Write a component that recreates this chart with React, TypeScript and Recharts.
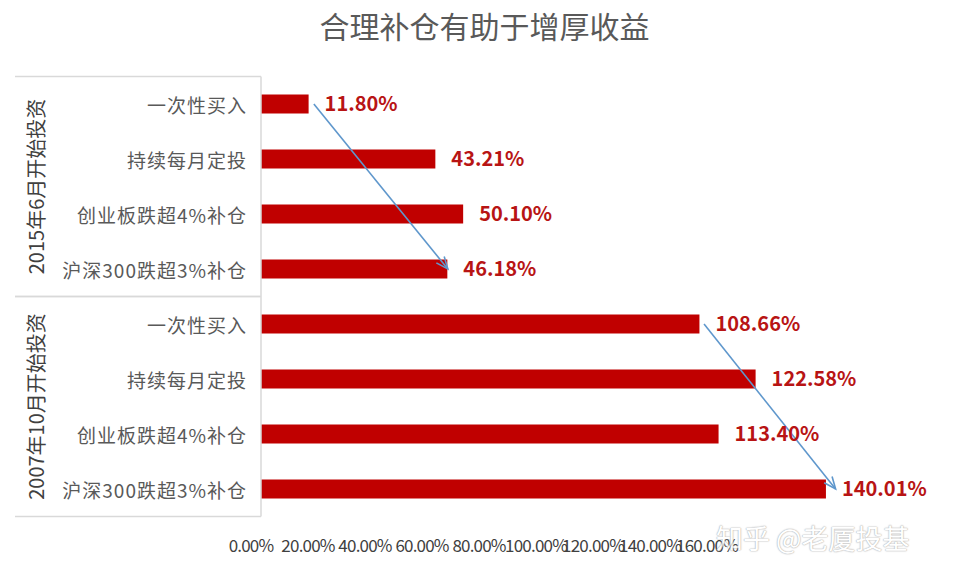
import React from 'react';
import { BarChart, Bar, XAxis, YAxis, LabelList, ReferenceLine } from 'recharts';

const ids = ['a1', 'a2', 'a3', 'a4', 'b1', 'b2', 'b3', 'b4'];
const categories = [
  '一次性买入', '持续每月定投', '创业板跌超4%补仓', '沪深300跌超3%补仓',
  '一次性买入', '持续每月定投', '创业板跌超4%补仓', '沪深300跌超3%补仓',
];
const groups = [
  '2015年6月开始投资', '2015年6月开始投资', '2015年6月开始投资', '2015年6月开始投资',
  '2007年10月开始投资', '2007年10月开始投资', '2007年10月开始投资', '2007年10月开始投资',
];
const values = [11.80, 43.21, 50.10, 46.18, 108.66, 122.58, 113.40, 140.01];
const xTicks = [0, 20, 40, 60, 80, 100, 120, 140, 160];
const arrow1 = [{ x: 13.1, y: 'a1' }, { x: 46.3, y: 'a4' }];
const arrow2 = [{ x: 109.8, y: 'b1' }, { x: 142.4, y: 'b4' }];

const data = ids.map((id, i) => ({ id, name: categories[i], group: groups[i], value: values[i] }));

const FONT = '"Noto Sans CJK SC", "Noto Sans", sans-serif';
const W = 969;
const H = 575;
const M = { top: 76.5, right: 62.4, bottom: 28.5, left: 15 };
const GROUP_W = 40;
const CAT_W = 206;
const X_AXIS_H = 30;
const PLOT_LEFT = M.left + GROUP_W + CAT_W;
const PLOT_BOTTOM = H - M.bottom - X_AXIS_H;
const PLOT_H = PLOT_BOTTOM - M.top;
const GROUP_HALF = PLOT_H / 4;
const LINE_COLOR = '#d9d9d9';

const CatTick = (props: any) => {
  const { x, y, payload } = props;
  const idx = ids.indexOf(payload.value);
  return (
    <text x={x} y={y} textAnchor="end" dominantBaseline="central" fill="#595959"
      fontSize={19} letterSpacing={1} fontFamily={FONT}>
      {categories[idx]}
    </text>
  );
};

const XTick = (props: any) => {
  const { x, payload } = props;
  return (
    <text x={x} y={PLOT_BOTTOM + 35} textAnchor="middle" fill="#404040" fontSize={17}
      letterSpacing={-0.8} fontFamily={FONT}>
      {Number(payload.value).toFixed(2) + '%'}
    </text>
  );
};

const GroupTick = (props: any) => {
  const { x, y, payload } = props;
  const cx = x - 12;
  return (
    <g>
      <line x1={M.left} x2={PLOT_LEFT} y1={y - GROUP_HALF} y2={y - GROUP_HALF} stroke={LINE_COLOR} strokeWidth={1.5} />
      <line x1={M.left} x2={PLOT_LEFT} y1={y + GROUP_HALF} y2={y + GROUP_HALF} stroke={LINE_COLOR} strokeWidth={1.5} />
      <text transform={`translate(${cx},${y}) rotate(-90)`} textAnchor="middle" dominantBaseline="central"
        fill="#404040" fontSize={20} fontFamily={FONT}>
        {payload.value}
      </text>
    </g>
  );
};

const ArrowShape = (props: any) => {
  const { x1, y1, x2, y2 } = props;
  if ([x1, y1, x2, y2].some((v) => typeof v !== 'number' || isNaN(v))) return <g />;
  const ang = Math.atan2(y2 - y1, x2 - x1);
  const len = 13;
  const spread = 0.4;
  const ax = x2 - len * Math.cos(ang - spread);
  const ay = y2 - len * Math.sin(ang - spread);
  const bx = x2 - len * Math.cos(ang + spread);
  const by = y2 - len * Math.sin(ang + spread);
  const c = '#5f97cc';
  return (
    <g>
      <line x1={x1} y1={y1} x2={x2} y2={y2} stroke={c} strokeWidth={1.6} />
      <polyline points={`${ax},${ay} ${x2},${y2} ${bx},${by}`} fill="none" stroke={c} strokeWidth={1.6} />
    </g>
  );
};

export default function App() {
  return (
    <div style={{ position: 'absolute', left: 0, top: 0, width: W, height: H, background: '#fff', fontFamily: FONT }}>
      <div style={{ position: 'absolute', left: 0, top: 6, width: W, textAlign: 'center', fontSize: 30, color: '#595959', lineHeight: '38px' }}>
        合理补仓有助于增厚收益
      </div>
      <BarChart width={W} height={H} data={data} layout="vertical" margin={M}>
        <XAxis xAxisId="tick" type="number" domain={[3.5, 230]} ticks={xTicks} allowDataOverflow
          axisLine={false} tickLine={false} height={X_AXIS_H} tickMargin={0} interval={0} tick={<XTick />} />
        <XAxis xAxisId="bar" type="number" domain={[0, 160]} hide />
        <YAxis yAxisId="cat" type="category" dataKey="id" width={CAT_W} tick={<CatTick />}
          axisLine={{ stroke: LINE_COLOR, strokeWidth: 1.5 }} tickLine={false} tickMargin={8} interval={0} />
        <YAxis yAxisId="grp" type="category" dataKey="group" allowDuplicatedCategory={false}
          width={GROUP_W} tick={<GroupTick />} axisLine={false} tickLine={false} interval={0} />
        <Bar dataKey="value" xAxisId="bar" yAxisId="cat" fill="#C00000" barSize={19} isAnimationActive={false}>
          <LabelList dataKey="value" position="right" offset={16}
            formatter={(v: any) => Number(v).toFixed(2) + '%'}
            fill="#B81414" fontSize={20} fontWeight="bold" fontFamily={FONT} />
        </Bar>
        <ReferenceLine xAxisId="bar" yAxisId="cat" segment={arrow1} shape={ArrowShape} ifOverflow="visible" />
        <ReferenceLine xAxisId="bar" yAxisId="cat" segment={arrow2} shape={ArrowShape} ifOverflow="visible" />
      </BarChart>
      <div style={{ position: 'absolute', left: 716, top: 518, fontSize: 27, color: '#ffffff', whiteSpace: 'nowrap',
        textShadow: '0 0 1px #999, 0 0 1px #aaa, 0 0 2px #bbb', opacity: 0.75 }}>
        知乎 @老厦投基
      </div>
    </div>
  );
}
